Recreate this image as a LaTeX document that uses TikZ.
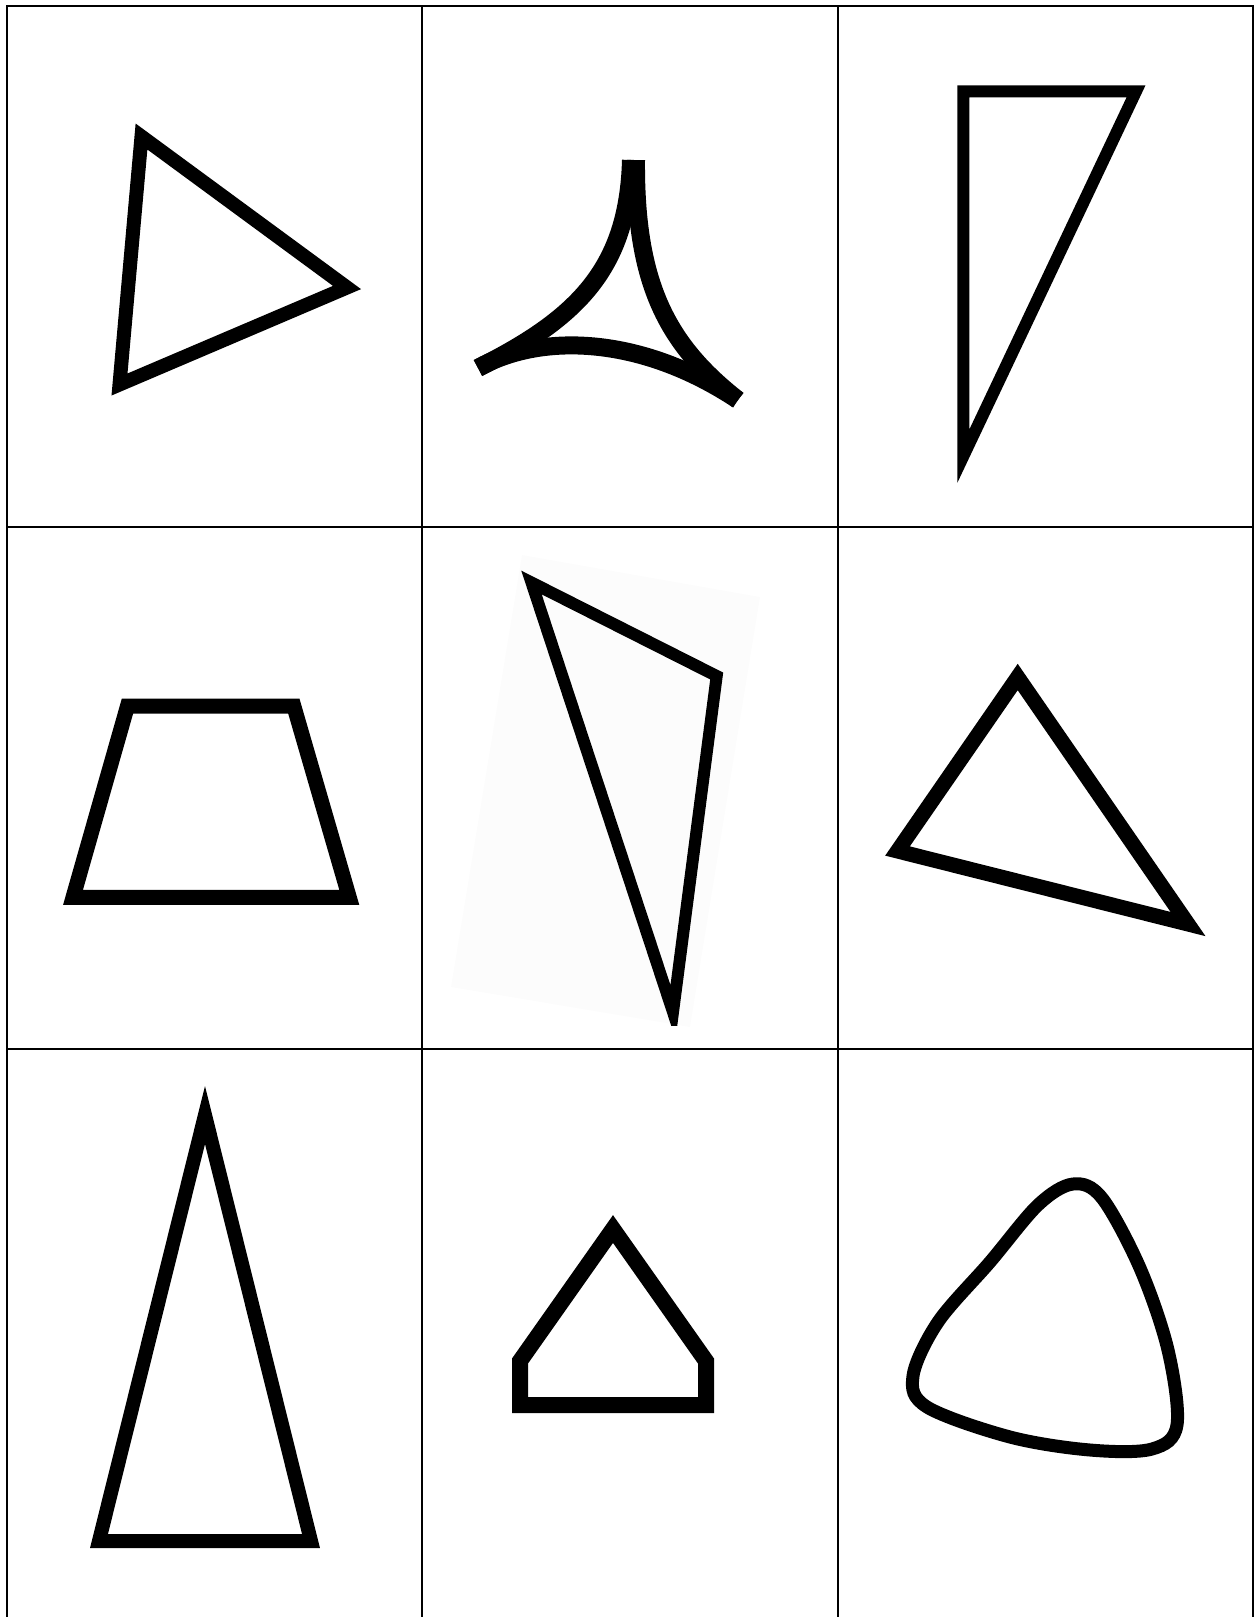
\documentclass[tikz,border=0pt]{standalone}
\usepackage{tikz}
\begin{document}
\begin{tikzpicture}[x = 0.02cm, y = -0.02cm,
    outline/.style = {line width = #1*0.2mm, line join = miter},
    gridline/.style = {line width = 0.4mm}]
            \useasboundingbox (0,0) rectangle (1254,1617);
            \def\xa{7} \def\xb{422} \def\xc{837.5} \def\xd{1253}
            \def\ya{6} \def\yb{526.5} \def\yc{1049} \def\ye{1617}

            \draw [gridline] (\xa,\ye) -- (\xa,\ya) -- (\xd,\ya) -- (\xd,\ye);
            \draw [gridline] (\xb,\ya) -- (\xb,\ye); \draw [gridline] (\xc,\ya) -- (\xc,\ye);
            \draw [gridline] (\xa,\yb) -- (\xd,\yb); \draw [gridline] (\xa,\yc) -- (\xd,\yc);

            \draw [outline = 14] (141.5,136.5) -- (347,287.5) -- (119.5,384.5) -- cycle;
            \draw [outline = 18] (631,160) .. controls (628,268) and (578,318) .. (478,368);
            \draw [outline = 18] (636,160) .. controls (635,285) and (668,345) .. (738,400);
            \draw [outline = 18] (478,368) .. controls (540,333) and (640,335) .. (738,400);
            \draw [outline = 12] (963.4,91.4) -- (1136,91.4) -- (963.4,456) -- cycle;

            \draw [outline = 15] (127.5,706) -- (293.8,706) -- (349.3,897.4) -- (73,897.4) -- cycle;
            \fill [black!1] (522,555) -- (760,597) -- (690,1027) -- (451,987) -- cycle;
            \begin{scope}
                \clip (\xb,\yb) rectangle (\xc,1025);
                \draw [outline = 12] (531.5,582.5) -- (716.7,676) -- (673,1012) -- cycle;
            \end{scope}
            \draw [outline = 15] (1017.7,677) -- (1188,924) -- (897.5,851) -- cycle;

            \draw [outline = 14] (205,1115) -- (311,1541) -- (99,1541) -- cycle;
            \draw [outline = 16] (613,1229) -- (706,1361) -- (706,1405) -- (520,1405) -- (520,1361) -- cycle;
            \draw [outline = 13] plot [smooth cycle, tension = 0.55] coordinates {(1073,1184) (1102,1198) (1140,1268) (1168,1350) (1177,1425) (1152,1449) (1090,1450) (1010,1437) (927,1407) (913,1376) (938,1322) (990,1262) (1038,1205)};
        \end{tikzpicture}
\end{document}
